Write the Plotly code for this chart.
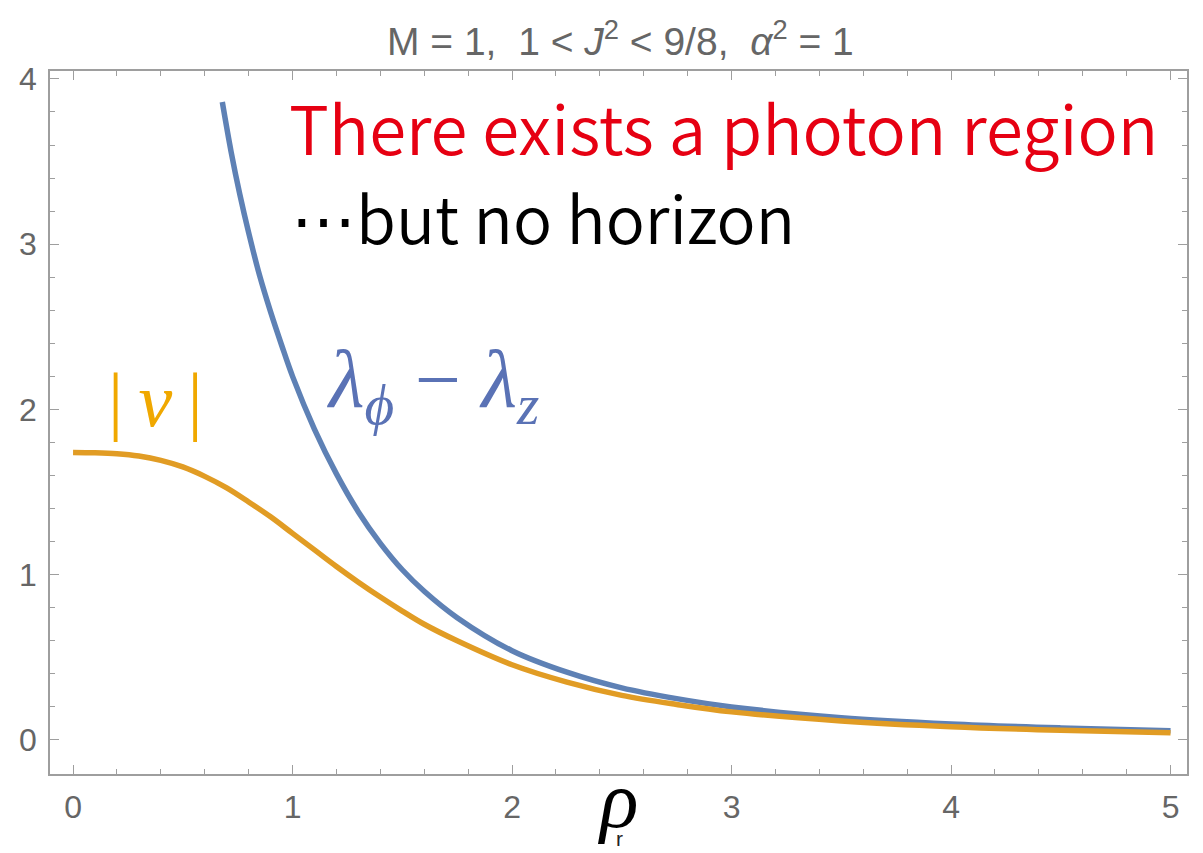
import plotly.graph_objects as go

# |v| as a function of rho_r
rho_v = [0.0, 0.1, 0.2, 0.3, 0.4, 0.5, 0.6, 0.7, 0.8, 0.9, 1.0, 1.1, 1.2, 1.3, 1.4,
         1.5, 1.6, 1.75, 2.0, 2.25, 2.5, 2.75, 3.0, 3.5, 4.0, 4.5, 5.0]
v_abs = [1.74, 1.738, 1.732, 1.718, 1.692, 1.652, 1.595, 1.525, 1.44, 1.35, 1.25, 1.15,
         1.05, 0.955, 0.865, 0.78, 0.70, 0.60, 0.455, 0.35, 0.27, 0.215, 0.17, 0.115,
         0.08, 0.058, 0.043]

# lambda_phi - lambda_z as a function of rho_r
rho_l = [0.68, 0.72, 0.76, 0.8, 0.85, 0.9, 0.95, 1.0, 1.1, 1.2, 1.3, 1.4, 1.5, 1.6,
         1.75, 2.0, 2.25, 2.5, 2.75, 3.0, 3.5, 4.0, 4.5, 5.0]
lam_diff = [3.86, 3.56, 3.30, 3.07, 2.81, 2.59, 2.39, 2.20, 1.88, 1.61, 1.38, 1.19,
            1.03, 0.90, 0.74, 0.54, 0.41, 0.315, 0.25, 0.20, 0.135, 0.097, 0.073, 0.056]

x_ticks = [0, 1, 2, 3, 4, 5]
y_ticks = [0, 1, 2, 3, 4]

BLUE = "#5E81B5"
ORANGE = "#E19C24"
FRAME = "#9E9E9E"
LABEL_GRAY = "#666666"

fig = go.Figure()
fig.add_trace(go.Scatter(x=rho_l, y=lam_diff, mode="lines",
                         line=dict(color=BLUE, width=5.5, shape="spline", smoothing=1.0),
                         showlegend=False, hoverinfo="skip"))
fig.add_trace(go.Scatter(x=rho_v, y=v_abs, mode="lines",
                         line=dict(color=ORANGE, width=5.5, shape="spline", smoothing=1.0),
                         showlegend=False, hoverinfo="skip"))

axis_common = dict(
    showline=True, linecolor=FRAME, linewidth=1.5, mirror="allticks",
    ticks="inside", ticklen=9, tickwidth=1.2, tickcolor=FRAME,
    showgrid=False, zeroline=False,
    tickfont=dict(family="Liberation Sans", size=32, color=LABEL_GRAY),
)

fig.update_xaxes(range=[-0.105, 5.075], tickvals=x_ticks,
                 minor=dict(dtick=0.2, ticks="inside", ticklen=5, tickcolor=FRAME, tickwidth=1),
                 ticklabelstandoff=4, **axis_common)
fig.update_yaxes(range=[-0.206, 4.048], tickvals=y_ticks,
                 minor=dict(dtick=0.2, ticks="inside", ticklen=5, tickcolor=FRAME, tickwidth=1),
                 ticklabelstandoff=5, **axis_common)

annotations = [
    dict(text="M = 1,\u00a0\u00a01 &lt; <i>J</i><sup>2</sup> &lt; 9/8,\u00a0\u00a0<i>α</i><sup>2</sup> = 1",
         xref="paper", yref="paper", x=0.502, y=1.0, yshift=33, xanchor="center", yanchor="middle",
         showarrow=False, font=dict(family="Liberation Sans, Arial", size=39, color=LABEL_GRAY)),
    dict(text="There exists a photon region", xref="x", yref="y", x=0.975, y=3.72,
         xanchor="left", yanchor="middle", showarrow=False,
         font=dict(family="Noto Sans CJK JP", size=67, weight=350, color="#E60012")),
    dict(text="<span style=\"font-family:'DejaVu Sans'\">\u22ef</span>but no horizon",
         xref="x", yref="y", x=0.985, y=3.17,
         xanchor="left", yanchor="middle", showarrow=False,
         font=dict(family="Noto Sans CJK JP", size=65, weight=350, color="#000000")),
    dict(text="|\u2009<i>v</i>\u2009|", xref="x", yref="y", x=0.375, y=2.06,
         xanchor="center", yanchor="middle", showarrow=False,
         font=dict(family="Liberation Serif, Times New Roman", size=76, color="#F0A800")),
    dict(text="<i>λ</i><sub><i>ϕ</i></sub> − <i>λ</i><sub><i>z</i></sub>", xref="x", yref="y",
         x=1.64, y=2.15, xanchor="center", yanchor="middle", showarrow=False,
         font=dict(family="Liberation Serif, Times New Roman", size=82, color="#5A72B5")),
    # axis title: rho with its subscript r set directly underneath
    dict(text="<i>ρ</i>", xref="x", yref="paper", x=2.48, y=0, yshift=-26,
         xanchor="center", yanchor="middle", showarrow=False,
         font=dict(family="Liberation Serif, Times New Roman", size=80, color="#000000")),
    dict(text="r", xref="x", yref="paper", x=2.49, y=0, yshift=-64,
         xanchor="center", yanchor="middle", showarrow=False,
         font=dict(family="Liberation Sans", size=21, color="#222222")),
]

fig.update_layout(
    width=1203, height=853,
    margin=dict(l=50, r=16, t=71, b=79),
    paper_bgcolor="white", plot_bgcolor="white",
    annotations=annotations,
)

fig.write_html("out.html")
